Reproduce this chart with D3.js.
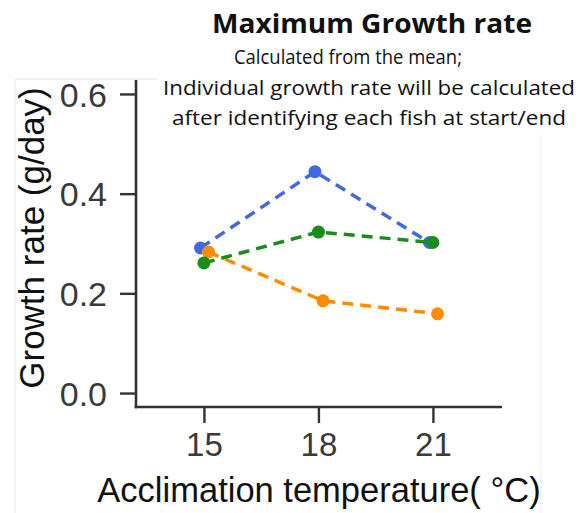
<!DOCTYPE html>
<html>
<head>
<meta charset="utf-8">
<script src="https://cdn.jsdelivr.net/npm/d3@7"></script>
<style>
  body { margin: 0; background: #fff; }
  svg { display: block; }
  .tick-label { font-family: "Liberation Sans", Arial, sans-serif; fill: #3a3a3a; }
  .axis-title { font-family: "Liberation Sans", Arial, sans-serif; fill: #111; }
  .title { font-family: "Open Sans", "Noto Sans", sans-serif; fill: #111; }
</style>
</head>
<body>
<div id="chart"></div>
<script>
// data
const temps = [15, 18, 21];
const yTicks = [0.0, 0.2, 0.4, 0.6];
const seriesNames = ["blue", "orange", "green"];
const blueVals = [0.291, 0.444, 0.302];
const orangeVals = [0.283, 0.185, 0.159];
const greenVals = [0.261, 0.323, 0.302];
const seriesColors = ["#4169e1", "#ff8c00", "#1a8c1a"];
const dodge = [-0.09, 0.12, 0.0];   // small horizontal offsets, in °C
const subtitleLines = [
  "Calculated from the mean;",
  "Individual growth rate will be calculated",
  "after identifying each fish at start/end"
];

const w = 587, h = 513;

let svg = d3.select("#chart").append("svg")
  .attr("width", w)
  .attr("height", h);

// faint frame of the pasted plot image
svg.append("line").attr("x1", 15).attr("x2", 157).attr("y1", 79).attr("y2", 79)
  .attr("stroke", "#e2e2e2").attr("stroke-width", 1);
svg.append("line").attr("x1", 15).attr("x2", 15).attr("y1", 79).attr("y2", h)
  .attr("stroke", "#ececec").attr("stroke-width", 1);
svg.append("line").attr("x1", 541).attr("x2", 541).attr("y1", 79).attr("y2", h)
  .attr("stroke", "#ececec").attr("stroke-width", 1);

// scales
let xScale = d3.scaleLinear().domain([13.22, 22.81]).range([136, 502]);
let yScale = d3.scaleLinear().domain([-0.028, 0.628]).range([407, 80]);

// axes
let axisColor = "#333";
let yAxis = svg.append("g").attr("transform", "translate(136,0)")
  .call(d3.axisLeft(yScale).tickValues(yTicks).tickFormat(d3.format(".1f")).tickSize(16).tickPadding(13));
let xAxis = svg.append("g").attr("transform", "translate(0,407)")
  .call(d3.axisBottom(xScale).tickValues(temps).tickSize(16).tickPadding(9));

[yAxis, xAxis].forEach(function(g) {
  g.select(".domain").attr("stroke", axisColor).attr("stroke-width", 2.6);
  g.selectAll(".tick line").attr("stroke", axisColor).attr("stroke-width", 2.4);
  g.selectAll(".tick text").attr("class", "tick-label").attr("fill", "#3a3a3a");
});
yAxis.selectAll(".tick text").attr("font-size", 34).attr("dy", "0.36em");
xAxis.selectAll(".tick text").attr("font-size", 33).attr("dy", "0.74em");
// domain paths drawn without outer ticks
yAxis.select(".domain").attr("d", "M0," + yScale.range()[1] + "V" + (yScale.range()[0] + 1.3));
xAxis.select(".domain").attr("d", "M" + (xScale.range()[0] - 1.3) + ",0H" + xScale.range()[1]);

// series
const allVals = [blueVals, orangeVals, greenVals];
let line = d3.line()
  .x(function(d) { return xScale(d[0]); })
  .y(function(d) { return yScale(d[1]); });

allVals.forEach(function(vals, i) {
  let pts = temps.map(function(t, j) { return [t + dodge[i], vals[j]]; });
  let g = svg.append("g").attr("class", "series-" + seriesNames[i]);
  g.append("path").datum(pts)
    .attr("d", line)
    .attr("fill", "none")
    .attr("stroke", seriesColors[i])
    .attr("stroke-width", 3.5)
    .attr("stroke-dasharray", "11,7");
  g.selectAll("circle").data(pts).enter().append("circle")
    .attr("cx", function(d) { return xScale(d[0]); })
    .attr("cy", function(d) { return yScale(d[1]); })
    .attr("r", 6.5)
    .attr("fill", seriesColors[i]);
});

// axis titles
svg.append("text").attr("class", "axis-title")
  .attr("x", 319).attr("y", 502)
  .attr("text-anchor", "middle")
  .attr("font-size", 34.5)
  .text("Acclimation temperature( °C)");

svg.append("text").attr("class", "axis-title")
  .attr("transform", "translate(44,238) rotate(-90)")
  .attr("text-anchor", "middle")
  .attr("font-size", 35)
  .text("Growth rate (g/day)");

// title block (white box hides the frame line)
svg.append("rect").attr("x", 158).attr("y", 40).attr("width", 425).attr("height", 95).attr("fill", "#fff");
svg.append("text").attr("class", "title")
  .attr("x", 372).attr("y", 33)
  .attr("text-anchor", "middle")
  .attr("font-size", 27)
  .attr("font-weight", "bold")
  .attr("textLength", 320)
  .attr("lengthAdjust", "spacingAndGlyphs")
  .text("Maximum Growth rate");

const subX = [348, 369, 369];
const subLen = [228, 412, 394];
svg.selectAll(".subtitle").data(subtitleLines).enter().append("text")
  .attr("class", "title subtitle")
  .attr("x", function(d, i) { return subX[i]; })
  .attr("y", function(d, i) { return 64 + i * 30.5; })
  .attr("text-anchor", "middle")
  .attr("font-size", 19.5)
  .attr("textLength", function(d, i) { return subLen[i]; })
  .attr("lengthAdjust", "spacingAndGlyphs")
  .text(function(d) { return d; });
</script>
</body>
</html>
